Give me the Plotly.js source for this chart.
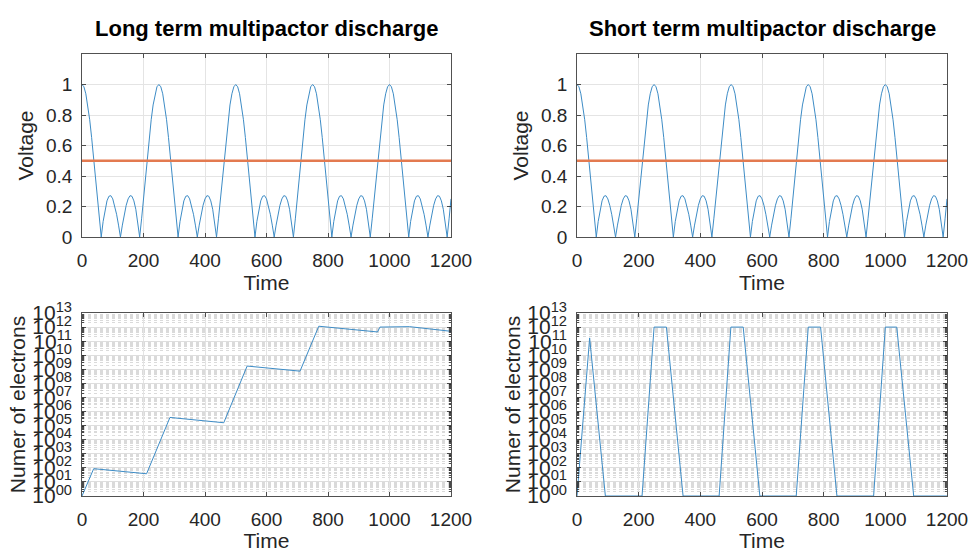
<!DOCTYPE html>
<html>
<head>
<meta charset="utf-8">
<script src="https://cdn.plot.ly/plotly-3.0.1.min.js"></script>
<style>html,body{margin:0;padding:0;background:#fff;}#chart{width:970px;height:552px;}</style>
</head>
<body>
<div id="chart"></div>
<script>
// ---------- Data ----------
var time = [
0,6.25,12.5,18.75,25,31.25,37.5,43.75,50,56.25,62.5,68.75,75,81.25,87.5,93.75,100,106.25,112.5,118.75,
125,131.25,137.5,143.75,150,156.25,162.5,168.75,175,181.25,187.5,193.75,200,206.25,212.5,218.75,225,231.25,237.5,243.75,
250,256.25,262.5,268.75,275,281.25,287.5,293.75,300,306.25,312.5,318.75,325,331.25,337.5,343.75,350,356.25,362.5,368.75,
375,381.25,387.5,393.75,400,406.25,412.5,418.75,425,431.25,437.5,443.75,450,456.25,462.5,468.75,475,481.25,487.5,493.75,
500,506.25,512.5,518.75,525,531.25,537.5,543.75,550,556.25,562.5,568.75,575,581.25,587.5,593.75,600,606.25,612.5,618.75,
625,631.25,637.5,643.75,650,656.25,662.5,668.75,675,681.25,687.5,693.75,700,706.25,712.5,718.75,725,731.25,737.5,743.75,
750,756.25,762.5,768.75,775,781.25,787.5,793.75,800,806.25,812.5,818.75,825,831.25,837.5,843.75,850,856.25,862.5,868.75,
875,881.25,887.5,893.75,900,906.25,912.5,918.75,925,931.25,937.5,943.75,950,956.25,962.5,968.75,975,981.25,987.5,993.75,
1000,1006.25,1012.5,1018.75,1025,1031.25,1037.5,1043.75,1050,1056.25,1062.5,1068.75,1075,1081.25,1087.5,1093.75,1100,1106.25,1112.5,1118.75,
1125,1131.25,1137.5,1143.75,1150,1156.25,1162.5,1168.75,1175,1181.25,1187.5,1193.75,1200
];
var voltage = [
1,.985,.939,.866,.769,.653,.524,.387,.25,.119,0,.102,.182,.237,.267,.271,.25,.208,.149,.078,
0,.078,.149,.208,.25,.271,.267,.237,.182,.102,0,.119,.25,.387,.524,.653,.769,.866,.939,.985,
1,.985,.939,.866,.769,.653,.524,.387,.25,.119,0,.102,.182,.237,.267,.271,.25,.208,.149,.078,
0,.078,.149,.208,.25,.271,.267,.237,.182,.102,0,.119,.25,.387,.524,.653,.769,.866,.939,.985,
1,.985,.939,.866,.769,.653,.524,.387,.25,.119,0,.102,.182,.237,.267,.271,.25,.208,.149,.078,
0,.078,.149,.208,.25,.271,.267,.237,.182,.102,0,.119,.25,.387,.524,.653,.769,.866,.939,.985,
1,.985,.939,.866,.769,.653,.524,.387,.25,.119,0,.102,.182,.237,.267,.271,.25,.208,.149,.078,
0,.078,.149,.208,.25,.271,.267,.237,.182,.102,0,.119,.25,.387,.524,.653,.769,.866,.939,.985,
1,.985,.939,.866,.769,.653,.524,.387,.25,.119,0,.102,.182,.237,.267,.271,.25,.208,.149,.078,
0,.078,.149,.208,.25,.271,.267,.237,.182,.102,0,.119,.25
];
var thresholdTime = [0, 1200];
var thresholdVoltage = [0.5, 0.5];

var longTime = [0, 38, 210, 286, 461, 537, 709, 770, 961, 969, 1065, 1200];
var longElectrons = [1, 87, 38, 3.8e5, 1.6e5, 1.7e9, 7.4e8, 1.15e12, 4.5e11, 1.0e12, 1.07e12, 5.0e11];

var shortTime = [0, 41, 92, 211, 250, 290, 344, 461, 499, 539, 593, 711, 750, 790, 843, 962, 1000, 1037, 1092, 1200];
var shortElectrons = [1, 1.7e11, 1, 1, 1e12, 1e12, 1, 1, 1e12, 1e12, 1, 1, 1e12, 1e12, 1, 1, 1e12, 1e12, 1, 1];

var voltageTicks = [0, 0.2, 0.4, 0.6, 0.8, 1];
var voltageTickText = ['0', '0.2', '0.4', '0.6', '0.8', '1'];
var timeTicks = [0, 200, 400, 600, 800, 1000, 1200];
var electronTicks = [1e0,1e1,1e2,1e3,1e4,1e5,1e6,1e7,1e8,1e9,1e10,1e11,1e12,1e13];
var electronTickText = ['00','01','02','03','04','05','06','07','08','09','10','11','12','13'];
var titles = ['Long term multipactor discharge', 'Short term multipactor discharge'];

// ---------- Styling ----------
var FONT = 'Liberation Sans, Arial, Helvetica, sans-serif';
var BLUE = '#3d8cc6', ORANGE = '#E37A50', AX = '#262626';
var W = 970, H = 552;
function px2x(a, b) { return [a / W, b / W]; }
function px2y(top, bottom) { return [(H - bottom) / H, (H - top) / H]; }

var colL = px2x(82, 451), colR = px2x(577, 947);
var rowT = px2y(54, 237), rowB = px2y(313, 496);

var minorVals = [];
for (var d = 0; d < 13; d++) for (var k = 2; k <= 9; k++) minorVals.push(k * Math.pow(10, d));

function xAxis(domain, anchor) {
  return {
    domain: domain, anchor: anchor, range: [0, 1200],
    tickmode: 'array', tickvals: timeTicks,
    showline: true, mirror: 'ticks', linecolor: AX, linewidth: 0.8,
    ticks: 'inside', ticklen: 4, tickcolor: AX, tickwidth: 0.8,
    showgrid: true, gridcolor: '#e4e4e4', gridwidth: 1, zeroline: false,
    tickfont: {family: FONT, size: 19, color: AX}, ticklabelstandoff: 6,
    title: {text: 'Time', font: {family: FONT, size: 21, color: AX}, standoff: 2},
    automargin: false, fixedrange: true
  };
}
function yVolt(domain, anchor) {
  return {
    domain: domain, anchor: anchor, range: [0, 1.2],
    tickmode: 'array', tickvals: voltageTicks, ticktext: voltageTickText,
    showline: true, mirror: 'ticks', linecolor: AX, linewidth: 0.8,
    ticks: 'inside', ticklen: 4, tickcolor: AX, tickwidth: 0.8,
    showgrid: true, gridcolor: '#e4e4e4', gridwidth: 1, zeroline: false,
    tickfont: {family: FONT, size: 19, color: AX}, ticklabelstandoff: 5,
    title: {text: 'Voltage', font: {family: FONT, size: 21, color: AX}, standoff: 6},
    automargin: false, fixedrange: true
  };
}
function yElec(domain, anchor) {
  return {
    domain: domain, anchor: anchor, type: 'log', range: [0, 13],
    tickmode: 'array', tickvals: electronTicks,
    ticktext: electronTickText.map(function (e) { return '10<sup>' + e + '</sup>'; }),
    showline: true, mirror: 'ticks', linecolor: AX, linewidth: 0.8,
    ticks: 'inside', ticklen: 4, tickcolor: AX, tickwidth: 0.8,
    showgrid: true, gridcolor: '#dedede', gridwidth: 1, zeroline: false,
    minor: {tickmode: 'array', tickvals: minorVals, showgrid: true, griddash: 'dot',
            gridcolor: '#dadada', gridwidth: 1, ticks: 'inside', ticklen: 2, tickcolor: AX},
    tickfont: {family: FONT, size: 21, color: AX}, ticklabelstandoff: 5,
    title: {text: 'Numer of electrons', font: {family: FONT, size: 21, color: AX}, standoff: 0},
    automargin: false, fixedrange: true
  };
}

var traces = [
  {x: time, y: voltage, xaxis: 'x', yaxis: 'y', mode: 'lines', line: {color: BLUE, width: 1}},
  {x: thresholdTime, y: thresholdVoltage, xaxis: 'x', yaxis: 'y', mode: 'lines', line: {color: ORANGE, width: 2.5}},
  {x: time, y: voltage, xaxis: 'x2', yaxis: 'y2', mode: 'lines', line: {color: BLUE, width: 1}},
  {x: thresholdTime, y: thresholdVoltage, xaxis: 'x2', yaxis: 'y2', mode: 'lines', line: {color: ORANGE, width: 2.5}},
  {x: longTime, y: longElectrons, xaxis: 'x3', yaxis: 'y3', mode: 'lines', line: {color: BLUE, width: 1}},
  {x: shortTime, y: shortElectrons, xaxis: 'x4', yaxis: 'y4', mode: 'lines', line: {color: BLUE, width: 1}}
];

var layout = {
  width: W, height: H,
  margin: {l: 0, r: 0, t: 0, b: 0},
  paper_bgcolor: '#ffffff', plot_bgcolor: '#ffffff',
  showlegend: false,
  font: {family: FONT, color: AX},
  xaxis: xAxis(colL, 'y'), yaxis: yVolt(rowT, 'x'),
  xaxis2: xAxis(colR, 'y2'), yaxis2: yVolt(rowT, 'x2'),
  xaxis3: xAxis(colL, 'y3'), yaxis3: yElec(rowB, 'x3'),
  xaxis4: xAxis(colR, 'y4'), yaxis4: yElec(rowB, 'x4'),
  annotations: [
    {text: '<b>' + titles[0] + '</b>', xref: 'paper', yref: 'paper', x: (colL[0] + colL[1]) / 2, y: 1 - 28 / H,
     xanchor: 'center', yanchor: 'middle', showarrow: false, font: {family: FONT, size: 22, color: '#000'}},
    {text: '<b>' + titles[1] + '</b>', xref: 'paper', yref: 'paper', x: (colR[0] + colR[1]) / 2, y: 1 - 28 / H,
     xanchor: 'center', yanchor: 'middle', showarrow: false, font: {family: FONT, size: 22, color: '#000'}}
  ]
};

Plotly.newPlot('chart', traces, layout, {staticPlot: true, displayModeBar: false});
</script>
</body>
</html>
